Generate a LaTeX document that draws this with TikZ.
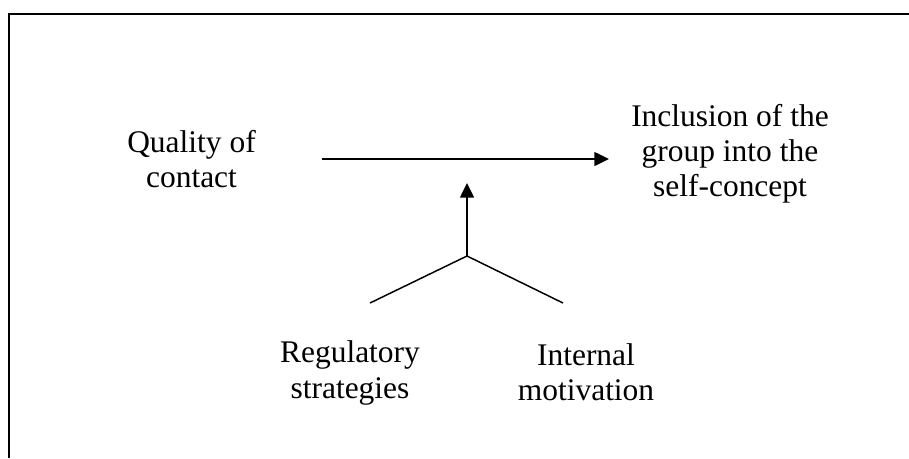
\documentclass[tikz,border=0pt]{standalone}
\usepackage{fontspec}
\setmainfont{Liberation Serif}
\usetikzlibrary{arrows.meta}

\begin{document}
\begin{tikzpicture}[x=0.75pt,y=-0.75pt,>={Triangle[length=11pt,width=10.5pt]},
  lbl/.style={align=center,inner sep=0pt,font=\fontsize{23.6}{26.3}\selectfont},
  link/.style={line width=1.1pt}]
  \useasboundingbox (0,0) rectangle (909,458);
  % open frame: top and left sides only
  \draw[line width=1.5pt] (909,14) -- (9,14) -- (9,458);
  \node[lbl] (quality) at (191.5,159) {Quality of\\contact};
  \node[lbl] (inclusion) at (730,154) {Inclusion of the\\group into the\\self-concept};
  \node[lbl] (regulatory) at (350,373) {Regulatory\\strategies};
  \node[lbl] (internal) at (586,372) {Internal\\motivation};
  \coordinate (join) at (467,256);
  \coordinate (lfoot) at (370,303);
  \coordinate (rfoot) at (563,303);
  \draw[link,->,shorten <=49.5pt,shorten >=16.5pt] (quality.east) -- (quality.east -| inclusion.west);
  \draw[link,->,shorten >=18pt] (join) -- (join |- quality.east);
  \draw[link] (lfoot) -- (join) -- (rfoot);
\end{tikzpicture}
\end{document}
